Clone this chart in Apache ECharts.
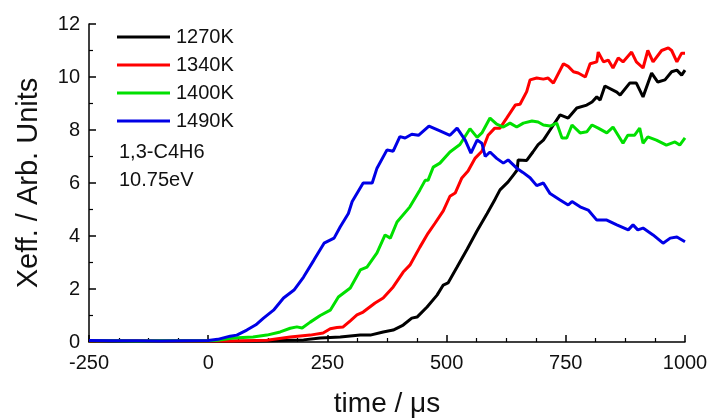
<!DOCTYPE html>
<html>
<head>
<meta charset="utf-8">
<script src="https://cdn.jsdelivr.net/npm/echarts@6/dist/echarts.min.js"></script>
<style>html,body{margin:0;padding:0;background:#fff}#c{width:713px;height:418px}</style>
</head>
<body>
<div id="c"></div>
<script>
var xTicks = [-250, 0, 250, 500, 750, 1000];
var yTicks = [0, 2, 4, 6, 8, 10, 12];
var seriesNames = ['1270K', '1340K', '1400K', '1490K'];
var annotations = ['1,3-C4H6', '10.75eV'];

var t1270 = [-250,-200,-150,-100,-50,0,100,200,235,277,319,340,367,388,409,427,438,459,480,493,503,522,543,564,585,602,612,629,640,648,650,668,681,692,703,717,738,755,773,794,805,815,822,832,857,864,884,898,912,930,943,958,972,983,993,1000];
var v1270 = [0.03,0.04,0.03,0.04,0.03,0.03,0.04,0.08,0.15,0.19,0.26,0.26,0.38,0.45,0.64,0.9,0.94,1.32,1.77,2.15,2.23,2.83,3.5,4.2,4.85,5.4,5.74,6.04,6.3,6.49,6.87,6.85,7.17,7.45,7.62,8.0,8.57,8.45,8.83,8.94,9.06,9.25,9.13,9.66,9.43,9.32,9.77,9.77,9.25,10.15,9.81,9.89,10.2,10.26,10.07,10.26];

var t1340 = [-250,-200,-150,-100,-50,0,50,123,172,214,241,256,270,283,298,312,325,350,367,388,409,423,444,461,476,493,507,518,532,545,560,574,587,601,612,626,644,654,668,675,689,703,713,724,745,755,766,776,791,801,815,818,829,839,849,860,870,888,898,912,922,933,951,965,972,983,993,1000];
var v1340 = [0.04,0.05,0.05,0.04,0.05,0.04,0.04,0.07,0.19,0.26,0.34,0.5,0.55,0.57,0.8,1.02,1.13,1.47,1.66,2.08,2.64,2.9,3.58,4.1,4.49,4.95,5.5,5.62,6.19,6.45,6.94,7.2,7.8,8.07,8.07,8.45,8.94,8.97,9.45,9.89,9.96,9.92,9.96,9.77,10.5,10.4,10.2,10.15,10.0,10.5,10.57,10.94,10.57,10.64,10.34,10.72,10.57,10.94,10.57,10.34,11.0,10.57,11.0,11.1,11.0,10.57,10.9,10.9];

var t1400 = [-250,-200,-150,-100,-50,0,20,52,94,123,151,172,186,197,214,235,256,273,298,319,333,354,371,382,396,423,444,455,461,472,486,507,528,549,564,574,591,605,619,633,647,661,679,692,703,717,731,742,752,763,780,794,805,818,836,849,870,880,894,905,912,922,940,961,979,989,1000];
var v1400 = [0.05,0.05,0.04,0.05,0.05,0.05,0.07,0.15,0.19,0.26,0.38,0.52,0.57,0.53,0.75,1.0,1.2,1.7,2.04,2.72,2.83,3.36,4.04,3.92,4.53,5.1,5.74,6.1,6.1,6.6,6.75,7.17,7.45,8.05,7.72,7.89,8.45,8.22,8.11,8.26,8.11,8.26,8.34,8.3,8.19,8.15,8.26,7.7,7.7,8.19,7.89,7.93,8.19,8.07,7.89,8.11,7.5,7.8,7.8,8.07,7.5,7.74,7.62,7.43,7.55,7.43,7.7];

var t1490 = [-250,-200,-150,-100,-50,0,20,46,60,81,100,116,137,158,180,200,222,243,264,277,294,302,325,344,354,375,388,402,413,427,441,463,486,507,522,539,551,564,574,581,591,605,619,629,647,660,675,689,703,717,738,755,763,780,797,815,836,857,881,891,901,912,933,954,969,983,1000];
var v1490 = [0.06,0.05,0.05,0.04,0.05,0.06,0.1,0.22,0.26,0.45,0.65,0.9,1.2,1.66,1.96,2.45,3.1,3.73,3.92,4.35,4.85,5.3,6.0,6.0,6.56,7.25,7.2,7.75,7.7,7.84,7.8,8.15,7.97,7.8,8.07,7.62,7.13,7.62,7.5,7.0,7.17,6.93,6.75,6.87,6.56,6.4,6.2,5.9,6.0,5.6,5.36,5.17,5.3,5.1,4.98,4.6,4.6,4.42,4.23,4.42,4.23,4.3,4.04,3.73,3.92,3.96,3.78];

var colors = ['#000000', '#ff0000', '#00e000', '#0000e6'];
var times = [t1270, t1340, t1400, t1490];
var vals = [v1270, v1340, v1400, v1490];

function zip(t, v) { return t.map(function (x, i) { return [x, v[i]]; }); }

var font = 'Liberation Sans, Arial, sans-serif';
var chart = echarts.init(document.getElementById('c'), null, { renderer: 'canvas' });
chart.setOption({
  animation: false,
  backgroundColor: '#ffffff',
  grid: { left: 89, right: 28, top: 24, bottom: 76, containLabel: false, outerBoundsMode: 'none' },
  legend: {
    orient: 'vertical',
    left: 117,
    top: 27,
    padding: 0,
    itemGap: 8,
    itemWidth: 53,
    itemHeight: 3,
    icon: 'rect',
    data: seriesNames,
    textStyle: { fontFamily: font, fontSize: 20, color: '#111', padding: [0, 0, 0, 1] }
  },
  graphic: [
    { type: 'text', left: 119, top: 142, style: { text: annotations[0], font: '20px ' + font, fill: '#111' } },
    { type: 'text', left: 119, top: 170, style: { text: annotations[1], font: '20px ' + font, fill: '#111' } }
  ],
  xAxis: {
    type: 'value',
    min: xTicks[0],
    max: xTicks[xTicks.length - 1],
    interval: 250,
    name: 'time / \u03bcs',
    nameLocation: 'middle',
    nameGap: 48,
    nameTextStyle: { fontFamily: font, fontSize: 28, color: '#111' },
    axisLine: { show: true, onZero: false, lineStyle: { color: '#000', width: 1.5 } },
    axisTick: { show: true, inside: true, length: 7, lineStyle: { color: '#000', width: 1.5 } },
    minorTick: { show: true, splitNumber: 4, length: 4, lineStyle: { color: '#000', width: 1.2 } },
    splitLine: { show: false },
    axisLabel: { margin: 11, fontFamily: font, fontSize: 20, color: '#111', formatter: function (v) { return String(v); } }
  },
  yAxis: {
    type: 'value',
    min: yTicks[0],
    max: yTicks[yTicks.length - 1],
    interval: 2,
    name: 'Xeff. / Arb. Units',
    nameLocation: 'middle',
    nameGap: 46,
    nameTextStyle: { fontFamily: font, fontSize: 29, color: '#111' },
    axisLine: { show: true, onZero: false, lineStyle: { color: '#000', width: 1.5 } },
    axisTick: { show: true, inside: true, length: 7, lineStyle: { color: '#000', width: 1.5 } },
    minorTick: { show: true, splitNumber: 2, length: 4, lineStyle: { color: '#000', width: 1.2 } },
    splitLine: { show: false },
    axisLabel: { margin: 9, fontFamily: font, fontSize: 20, color: '#111', formatter: function (v) { return String(v); } }
  },
  series: seriesNames.map(function (n, i) {
    return {
      name: n,
      type: 'line',
      data: zip(times[i], vals[i]),
      showSymbol: false,
      symbol: 'none',
      color: colors[i],
      lineStyle: { width: 3, color: colors[i] },
      z: 2 + i
    };
  })
});
</script>
</body>
</html>
